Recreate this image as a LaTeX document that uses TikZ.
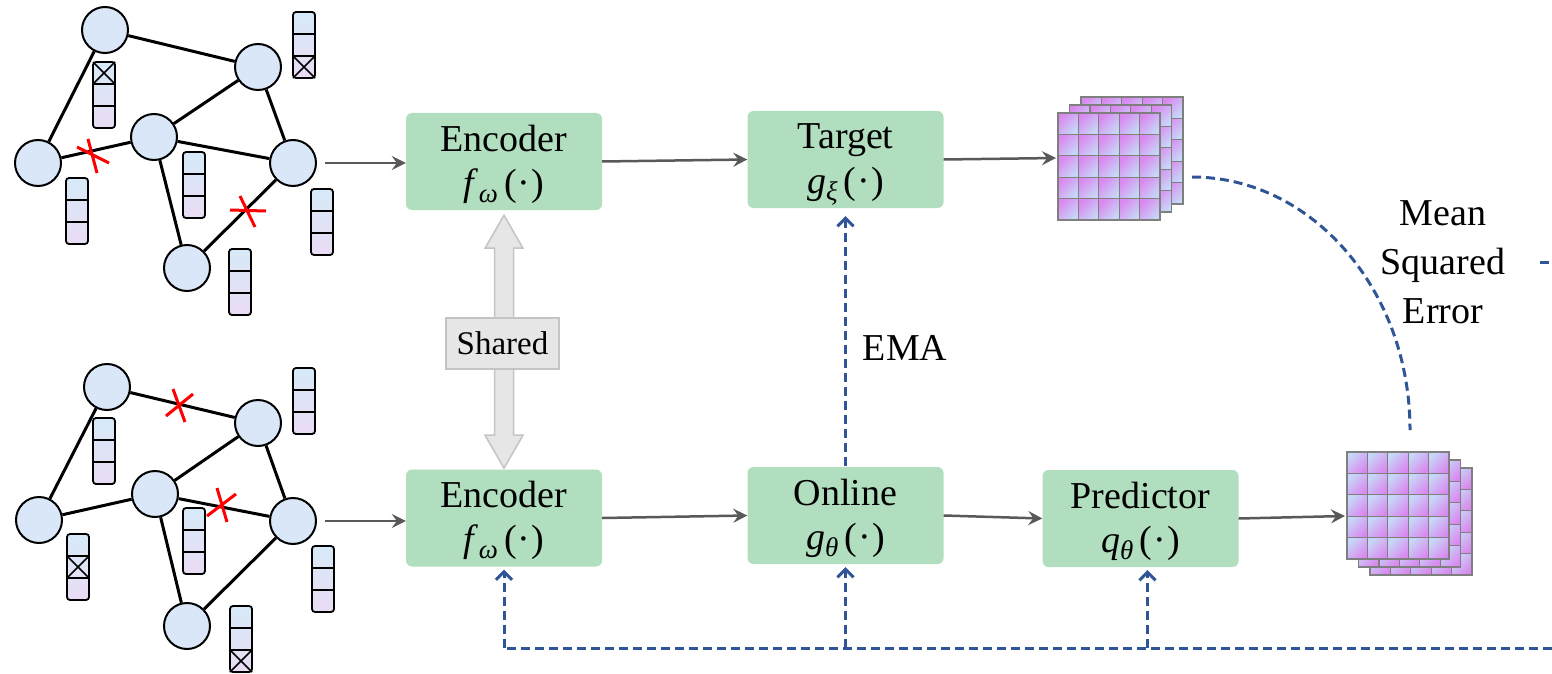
\documentclass[tikz,border=0pt]{standalone}
\usepackage{fontspec}
\setmainfont{Liberation Serif}
\usetikzlibrary{arrows.meta,calc}

\definecolor{boxgreen}{HTML}{B0DEBE}
\definecolor{nodeblue}{HTML}{D9E7F8}
\definecolor{flowgray}{HTML}{595959}
\definecolor{lossblue}{HTML}{2F5597}
\definecolor{vectop}{HTML}{D6EAF8}
\definecolor{vecbot}{HTML}{EADCF5}
\definecolor{cellpink}{HTML}{DA88EF}
\definecolor{cellblue}{HTML}{C6D8F8}
\definecolor{cellgray}{HTML}{7F7F7F}
\definecolor{sharefill}{HTML}{E6E6E6}
\definecolor{shareline}{HTML}{C4C4C4}

\newcommand\diagfont{\fontsize{38}{44}\selectfont}
\newcommand\msefont{\fontsize{38}{49}\selectfont}
\newcommand\sharedfont{\fontsize{33}{38}\selectfont}
% function symbol with an italic subscript, e.g. f_omega(.)
\newcommand\fnsym[2]{\textit{#1}\raisebox{-7pt}{\fontsize{27}{27}\selectfont\itshape #2}\,(\kern1pt·\kern1pt)}

% one feature vector of three cells; #3 = index of the masked cell (0 = none)
\newcommand\featvec[3]{%
  \shade[top color=vectop,bottom color=vecbot,rounded corners=3pt] (#1,#2) rectangle ++(22,66);
  \ifnum#3>0
    \pgfmathsetmacro\fvcy{#2+22*(#3-1)}%
    \draw[line width=1.6pt] (#1,\fvcy) -- ++(22,22) ++(0,-22) -- ++(-22,22);
  \fi
  \draw[line width=1.8pt,rounded corners=3pt] (#1,#2) rectangle ++(22,66);
  \draw[line width=1.8pt] (#1,#2+22) -- ++(22,0) (#1,#2+44) -- ++(22,0);
}

% one 5x5 layer of an embedding stack
\newcommand\gridlayer[3]{%
  \foreach \i in {0,...,4}{\foreach \j in {0,...,4}{%
    \path[#3] ({#1+20.4*\i},{#2+21.4*\j}) rectangle ++(20.4,21.4);}}%
}

\tikzset{
  gnode/.style={circle, draw=black, line width=2pt, fill=nodeblue, minimum size=46pt, inner sep=0pt},
  gedge/.style={line width=3pt, black},
  cut/.style={red, line width=3pt},
  module/.style={rounded corners=6pt, fill=boxgreen, minimum width=196pt, minimum height=97pt,
                 align=center, font=\diagfont, inner sep=0pt, text height=76pt, text depth=9pt},
  flow/.style={flowgray, line width=2.5pt, -{Stealth[length=14pt,width=14pt,inset=5pt]}},
  lossline/.style={lossblue, line width=3pt, dash pattern=on 9pt off 5pt},
  update/.style={lossline, -{Straight Barb[length=8pt,width=16pt,line width=3pt]}},
  cellT/.style={draw=cellgray, line width=1.2pt, top color=cellpink, bottom color=cellblue, shading angle=45},
  cellB/.style={draw=cellgray, line width=1.2pt, top color=cellblue, bottom color=cellpink, shading angle=45},
  sharearrow/.style={fill=sharefill, draw=shareline, line width=1.5pt, line join=miter},
}

\begin{document}
\begin{tikzpicture}[x=1pt,y=-1pt]
\useasboundingbox (0,0) rectangle (1552,674);

% ---------- first augmented graph ----------
\node[gnode] (ta) at (105,30) {};
\node[gnode] (tb) at (258,67) {};
\node[gnode] (tc) at (154,137) {};
\node[gnode] (td) at (38,163) {};
\node[gnode] (te) at (293,163) {};
\node[gnode] (tf) at (187,268) {};
\foreach \u/\v in {ta/tb,ta/td,tb/tc,tb/te,tc/td,tc/te,tc/tf,te/tf}
  \draw[gedge] (\u) -- (\v);
\draw[cut] (77,147) -- (109,163) (88,139) -- (97,173);
\draw[cut] (230,210) -- (266,211) (240,196) -- (255,227);
\featvec{93}{62}{1}
\featvec{293}{12}{3}
\featvec{66}{178}{0}
\featvec{183}{152}{0}
\featvec{311}{189}{0}
\featvec{229}{249}{0}

% ---------- second augmented graph ----------
\node[gnode] (ba) at (107,387) {};
\node[gnode] (bb) at (258,423) {};
\node[gnode] (bc) at (155,494) {};
\node[gnode] (bd) at (39,520) {};
\node[gnode] (be) at (293,521) {};
\node[gnode] (bf) at (187,626) {};
\foreach \u/\v in {ba/bb,ba/bd,bb/bc,bb/be,bc/bd,bc/be,bc/bf,be/bf}
  \draw[gedge] (\u) -- (\v);
\draw[cut] (166,416) -- (193,394) (173,389) -- (185,422);
\draw[cut] (207,516) -- (236,494) (217,488) -- (227,522);
\featvec{93}{418}{0}
\featvec{293}{368}{0}
\featvec{67}{534}{2}
\featvec{183}{508}{0}
\featvec{312}{546}{0}
\featvec{230}{606}{3}

% ---------- modules ----------
\node[module] (enc1) at (504,161.5) {Encoder\\\fnsym{f}{ω}};
\node[module] (target) at (845.5,159.5) {Target\\\fnsym{g}{ξ}};
\node[module] (enc2) at (504,518) {Encoder\\\fnsym{f}{ω}};
\node[module] (online) at (845.5,515.5) {Online\\\fnsym{g}{θ}};
\node[module] (pred) at (1140.5,518.5) {Predictor\\\fnsym{q}{θ}};

% ---------- embedding stacks ----------
\gridlayer{1081}{97}{cellT}
\gridlayer{1069.5}{105}{cellT}
\gridlayer{1058}{113}{cellT}
\coordinate (cubeT) at (1056,158);
\gridlayer{1370}{468}{cellB}
\gridlayer{1358.5}{460}{cellB}
\gridlayer{1347}{452}{cellB}
\coordinate (cubeB) at (1345,516);

% ---------- forward flow ----------
\draw[flow] ($(te.east)+(8,0)$) -- (enc1.west |- te);
\draw[flow] ($(be.east)+(8,0)$) -- (enc2.west |- be);
\draw[flow] (enc1.east) -- (target.west);
\draw[flow] (enc2.east) -- (online.west);
\draw[flow] (online.east) -- (pred.west);
\draw[flow] (target.east) -- (cubeT);
\draw[flow] (pred.east) -- (cubeB);

% ---------- shared weights ----------
\coordinate (shtop) at ($(enc1.south)+(0,5)$);
\filldraw[sharearrow] (shtop) -- ++(19,33) -- ++(-9.5,0) -- ++(0,187) -- ++(9.5,0)
  -- ++(-19,33) -- ++(-19,-33) -- ++(9.5,0) -- ++(0,-187) -- ++(-9.5,0) -- cycle;
\node[fill=sharefill, draw=shareline, line width=1.5pt, minimum width=113pt, minimum height=51pt,
      inner sep=0pt, font=\sharedfont] (shared) at (502.5,343.5) {Shared};

% ---------- EMA update ----------
\draw[update, shorten >=8pt, shorten <=1pt] (online.north) -- (target.south);
\node[font=\diagfont] (ema) at (905,348) {EMA};

% ---------- loss ----------
\coordinate (lossTop) at (1192,177);
\coordinate (lossBot) at (1410,430);
\draw[lossline] (lossTop) .. controls (1312,177) and (1410,290) .. (lossBot);
\node[font=\msefont, align=center] (mse) at (1443,262) {Mean\\Squared\\Error};
\coordinate (lossIn) at (1540,262);
\coordinate (lossOut) at (1552,262);
\draw[lossline] (lossIn) -- (lossOut);

% ---------- gradient feedback ----------
\coordinate (fbR) at (1552,648);
\coordinate (fbPred) at ($(pred.south)+(7,0)$);
\draw[lossline] (fbR) -- (enc2.south |- fbR);
\draw[update, shorten >=3pt] (enc2.south |- fbR) -- (enc2.south);
\draw[update, shorten >=3pt] (online.south |- fbR) -- (online.south);
\draw[update, shorten >=3pt] (fbPred |- fbR) -- (fbPred);
\end{tikzpicture}
\end{document}
